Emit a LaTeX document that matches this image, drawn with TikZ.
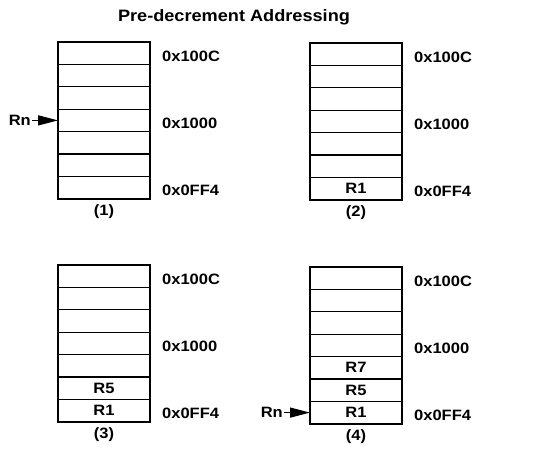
\documentclass[tikz,border=0pt]{standalone}
\usepackage{fontspec}
\setmainfont{Liberation Sans}[FakeStretch=1.1]
\usetikzlibrary{arrows.meta,positioning}

\begin{document}
\begin{tikzpicture}[x=1pt,y=1pt,
  every node/.style={font=\bfseries\fontsize{15}{18}\selectfont},
  cell/.style={draw,line width=1.1pt,minimum width=92pt,minimum height=22.4pt,inner sep=0pt,outer sep=0pt},
  frame/.style={draw,line width=1.6pt},
  addr/.style={anchor=west,inner sep=0pt},
  lab/.style={inner sep=1pt},
  regarrow/.style={line width=1.4pt,-{Triangle[length=20pt,width=10pt]}}]
  \useasboundingbox (0,0) rectangle (554,449);
  % one memory stack: name, centre x, top y, caption
  \newcommand{\memstack}[4]{%
    \foreach \i in {1,...,7}
      \node[cell] (#1\i) at (#2,{#3-22.4*\i+11.2}) {};
    \draw[frame] (#11.north west) rectangle (#17.south east);
    \node[addr,yshift=-3pt] (#1hi) at ([xshift=12pt]#11.east) {0x100C};
    \node[addr,yshift=-3pt] (#1mid) at ([xshift=12pt]#14.east) {0x1000};
    \node[addr,yshift=-3pt] (#1lo) at ([xshift=12pt]#17.east) {0x0FF4};
    \node[lab,below=5pt] (#1cap) at (#17.south) {#4};}
  \node[font=\bfseries\fontsize{16.5}{20}\selectfont] (title) at (234,432) {Pre-decrement Addressing};
  \memstack{a}{104}{407}{(1)}
  \memstack{b}{356}{406}{(2)}
  \memstack{c}{104}{184}{(3)}
  \memstack{d}{356}{182}{(4)}
  % stored registers
  \node[lab] (b7t) at (b7) {R1};
  \node[lab] (c6t) at (c6) {R5};
  \node[lab] (c7t) at (c7) {R1};
  \node[lab] (d5t) at (d5) {R7};
  \node[lab] (d6t) at (d6) {R5};
  \node[lab] (d7t) at (d7) {R1};
  % register pointer
  \node[lab,left=26pt of a4.west] (rna) {Rn};
  \draw[regarrow] (rna.east) -- (a4.west);
  \node[lab,left=26pt of d7.west] (rnd) {Rn};
  \draw[regarrow] (rnd.east) -- (d7.west);
\end{tikzpicture}
\end{document}
